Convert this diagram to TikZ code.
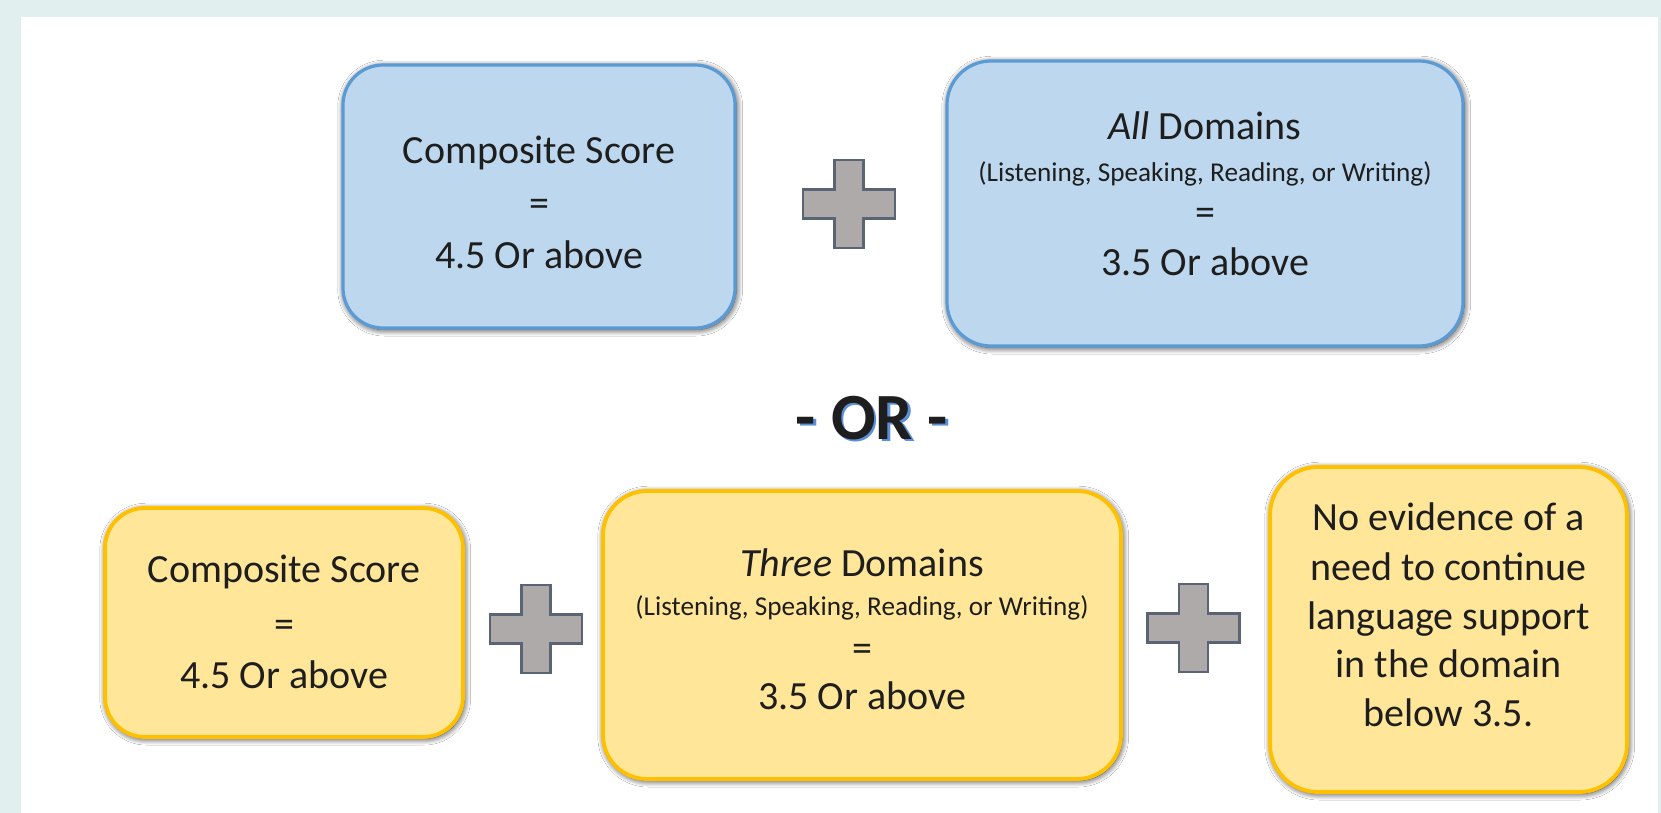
\documentclass[tikz,border=0pt]{standalone}
\usepackage{fontspec}
\setmainfont{Carlito}
\usetikzlibrary{shadows.blur}
\definecolor{bgc}{HTML}{E1EFEF}
\definecolor{bluefill}{HTML}{BDD7EE}
\definecolor{blueline}{HTML}{5B9BD5}
\definecolor{yelfill}{HTML}{FFE699}
\definecolor{yelline}{HTML}{FFC000}
\definecolor{plusfill}{HTML}{AEAAAA}
\definecolor{plusline}{HTML}{5A6475}
\definecolor{txt}{HTML}{1E1E1E}
\definecolor{orshadow}{HTML}{5B8FD8}
\begin{document}
\begin{tikzpicture}[x=0.5pt,y=-0.5pt,
  boxbase/.style={rectangle, rounded corners=20pt, inner sep=0pt,
    blur shadow={shadow xshift=0.6pt, shadow yshift=-0.8pt, shadow blur radius=3.2pt, shadow opacity=85, shadow blur steps=14}},
  bluebox/.style={boxbase, fill=bluefill, draw=blueline, line width=1.6pt},
  yelbox/.style={boxbase, fill=yelfill, draw=yelline, line width=1.9pt},
  txtmain/.style={font=\fontsize{20}{24}\selectfont, text=txt, inner sep=0pt, anchor=base},
  txtsmall/.style={font=\fontsize{13.6}{16}\selectfont, text=txt, inner sep=0pt, anchor=base},
  orbig/.style={font=\fontsize{33}{40}\selectfont\bfseries, inner sep=0pt, anchor=base},
  plussign/.pic={
    \draw[fill=plusfill, draw=plusline, line width=1.1pt, line join=miter]
      (-14.5,-44) -- (14.5,-44) -- (14.5,-14.5) -- (46,-14.5) -- (46,14.5)
      -- (14.5,14.5) -- (14.5,44) -- (-14.5,44) -- (-14.5,14.5) -- (-46,14.5)
      -- (-46,-14.5) -- (-14.5,-14.5) -- cycle;
  }]
\useasboundingbox (0,0) rectangle (1661,813);
\fill[bgc] (0,0) rectangle (1661,813);
\fill[white] (21,17) rectangle (1658,813);

% top row
\node[bluebox, minimum width=196pt, minimum height=131.5pt] (b1) at (539,196.5) {};
\node[txtmain] (b1a) at (539,163) {Composite Score};
\node[txtmain] (b1b) at (539,216) {=};
\node[txtmain] (b1c) at (539,268) {4.5 Or above};

\pic (plusA) at (849,204) {plussign};

\node[bluebox, minimum width=258pt, minimum height=142.5pt, rounded corners=22pt] (b2) at (1205,203.5) {};
\node[txtmain] (b2a) at (1205,140) {\textit{All} Domains};
\node[txtsmall] (b2b) at (1205,182) {(Listening, Speaking, Reading, or Writing)};
\node[txtmain] (b2c) at (1205,226) {=};
\node[txtmain] (b2d) at (1205,275) {3.5 Or above};

% OR
\node[orbig, text=orshadow] (orS) at (874.5,441.5) {- OR -};
\node[orbig, text=txt] (or) at (872,439) {- OR -};

% bottom row
\node[yelbox, minimum width=179pt, minimum height=114.5pt] (y1) at (284,622.5) {};
\node[txtmain] (y1a) at (284,582) {Composite Score};
\node[txtmain] (y1b) at (284,637) {=};
\node[txtmain] (y1c) at (284,688) {4.5 Or above};

\pic (plusB) at (536,629) {plussign};

\node[yelbox, minimum width=259pt, minimum height=144pt, rounded corners=22pt] (y2) at (862,635) {};
\node[txtmain] (y2a) at (862,576) {\textit{Three} Domains};
\node[txtsmall] (y2b) at (862,615) {(Listening, Speaking, Reading, or Writing)};
\node[txtmain] (y2c) at (862,661) {=};
\node[txtmain] (y2d) at (862,709) {3.5 Or above};

\pic (plusC) at (1193.5,628) {plussign};

\node[yelbox, minimum width=178.5pt, minimum height=162.5pt, rounded corners=24pt] (y3) at (1448.5,629.5) {};
\node[txtmain] (y3a) at (1448.5,530) {No evidence of a};
\node[txtmain] (y3b) at (1448.5,580) {need to continue};
\node[txtmain] (y3c) at (1448.5,629) {language support};
\node[txtmain] (y3d) at (1448.5,677) {in the domain};
\node[txtmain] (y3e) at (1448.5,726) {below 3.5.};
\end{tikzpicture}
\end{document}
